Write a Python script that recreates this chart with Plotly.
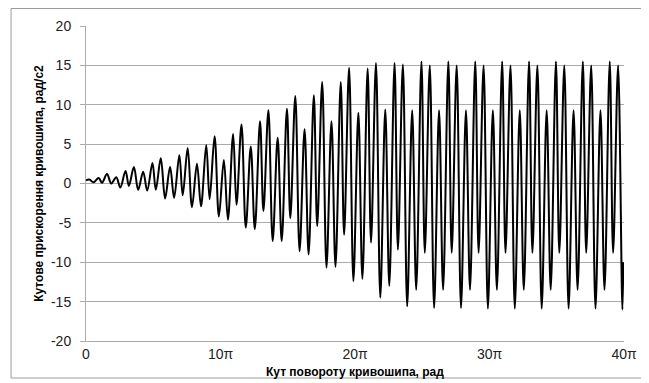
import plotly.graph_objects as go

# Position of each local extremum inside one crank revolution (units of pi)
rev_offsets_pi = [0.25, 0.55, 0.94, 1.19, 1.56, 1.88]

# Extremum values per revolution (20 revolutions, 0..40pi)
peak1 = [0.5, 0.8, 1.5, 2.1, 2.5, 3.0, 4.7, 5.8, 6.9, 7.9,
         9.0, 9.4, 9.3, 9.3, 9.3, 9.3, 9.3, 9.3, 9.3, 9.3]
trough1 = [0.15, -0.5, -0.9, -1.8, -2.9, -4.6, -5.8, -7.3, -9.0, -10.6,
           -12.1, -13.0, -13.5, -13.5, -13.5, -13.5, -13.5, -13.5, -13.5, -13.5]
peak2 = [0.7, 1.6, 2.6, 3.6, 4.9, 6.3, 7.9, 9.5, 11.2, 12.9,
         14.6, 15.3, 15.5, 15.5, 15.5, 15.5, 15.5, 15.5, 15.5, 15.5]
trough2 = [0.1, -0.3, -0.8, -1.5, -2.0, -2.7, -3.5, -4.4, -5.4, -6.5,
           -7.5, -8.4, -8.8, -8.8, -8.8, -8.8, -8.8, -8.8, -8.8, -8.8]
peak3 = [1.2, 2.1, 3.2, 4.5, 6.0, 7.5, 9.3, 11.1, 12.9, 14.7,
         15.3, 15.1, 15.0, 15.0, 15.0, 15.0, 15.0, 15.0, 15.0, 15.0]
trough3 = [0.0, -0.8, -1.9, -3.0, -4.2, -5.6, -7.3, -8.6, -10.7, -12.4,
           -14.5, -15.6, -15.8, -15.8, -15.9, -15.9, -15.9, -15.9, -15.9, -16.0]

start_point = (0.0, 0.4)
end_point = (39.95, -10.0)

x_tick_vals = [0, 10, 20, 30, 40]
x_tick_text = ["0", "10π", "20π", "30π", "40π"]
y_tick_vals = [-20, -15, -10, -5, 0, 5, 10, 15, 20]
y_tick_text = ["-20", "-15", "-10", "-5", "0", "5", "10", "15", "20"]

series = [peak1, trough1, peak2, trough2, peak3, trough3]
xs = [start_point[0]]
ys = [start_point[1]]
for k in range(len(peak1)):
    for j, arr in enumerate(series):
        xs.append(2 * k + rev_offsets_pi[j])
        ys.append(arr[k])
xs.append(end_point[0])
ys.append(end_point[1])

fig = go.Figure()
fig.add_trace(go.Scatter(x=xs, y=ys, mode="lines",
                         line=dict(color="black", width=2, shape="spline", smoothing=1.0),
                         hoverinfo="skip", showlegend=False))

grid_col = "#ababab"
font_main = "Liberation Sans"

fig.update_layout(
    width=649, height=383,
    margin=dict(l=78, r=33, t=18, b=50),
    paper_bgcolor="white", plot_bgcolor="white",
    font=dict(family=font_main, size=14, color="#222222"),
    xaxis=dict(range=[0, 40], tickvals=x_tick_vals, ticktext=x_tick_text,
               automargin=False,
               showgrid=False, zeroline=False, showline=True, linecolor=grid_col,
               linewidth=1, ticks="", tickfont=dict(size=14, color="#222222")),
    yaxis=dict(range=[-20, 20], tickvals=y_tick_vals, ticktext=y_tick_text,
               automargin=False,
               showgrid=True, gridcolor=grid_col, gridwidth=1, zeroline=False,
               showline=True, linecolor=grid_col, linewidth=1,
               ticks="outside", ticklen=5, tickcolor=grid_col,
               ticklabelstandoff=6,
               tickfont=dict(size=14, color="#222222"),
               title=dict(text="<b>Кутове прискорення кривошипа, рад/с2</b>",
                          font=dict(size=12, color="black"), standoff=4)),
    annotations=[dict(text="<b>Кут повороту кривошипа, рад</b>", xref="paper", yref="paper",
                      x=0.5, y=-0.098, xanchor="center", yanchor="middle", showarrow=False,
                      font=dict(size=12, color="black"))],
    shapes=[dict(type="rect", xref="paper", yref="paper",
                 x0=-0.1393, x1=1.0338, y0=-0.1175, y1=1.0556,
                 line=dict(color="#9a9a9a", width=1), fillcolor="rgba(0,0,0,0)",
                 layer="above")],
)

fig.write_html("out.html")
